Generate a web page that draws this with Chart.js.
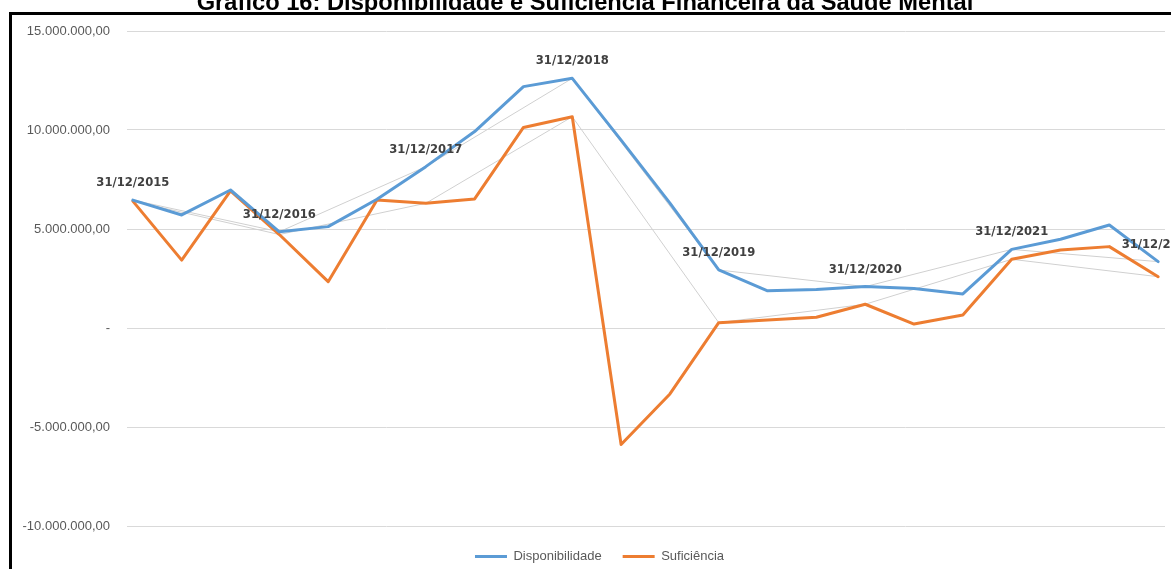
<!DOCTYPE html>
<html>
<head>
<meta charset="utf-8">
<script src="https://cdn.jsdelivr.net/npm/chart.js@4/dist/chart.umd.min.js"></script>
<style>
    body { margin: 0; background: #ffffff; }
    #wrap { position: relative; width: 1171px; height: 569px; overflow: hidden; }
</style>
</head>
<body>
<div id="wrap"><canvas id="chart" width="1171" height="569"></canvas></div>
<script>
const chartTitle = "Gráfico 16: Disponibilidade e Suficiência Financeira da Saúde Mental";

// quadrimestral positions, 31/12/2015 .. 31/12/2022
const periods = [0, 1, 2, 3, 4, 5, 6, 7, 8, 9, 10, 11, 12, 13, 14, 15, 16, 17, 18, 19, 20, 21];

const disponibilidade = [6.46, 5.71, 6.97, 4.86, 5.12, 6.50, 8.15, 9.92, 12.19, 12.61, 9.49,
    6.31, 2.93, 1.88, 1.95, 2.09, 2.00, 1.72, 3.97, 4.48, 5.20, 3.35].map(v => v * 1e6);

const suficiencia = [6.41, 3.43, 6.92, 4.72, 2.34, 6.46, 6.30, 6.52, 10.13, 10.67, -5.88,
    -3.33, 0.27, 0.40, 0.54, 1.20, 0.20, 0.66, 3.47, 3.94, 4.11, 2.59].map(v => v * 1e6);

// year end points (31/12) and their labels
const yearEndIndex = [0, 3, 6, 9, 12, 15, 18, 21];
const yearEndLabels = ["31/12/2015", "31/12/2016", "31/12/2017", "31/12/2018",
    "31/12/2019", "31/12/2020", "31/12/2021", "31/12/2022"];

const yTicks = [-10e6, -5e6, 0, 5e6, 10e6, 15e6];

function formatBRL(value) {
    if (value === 0) return "-";
    const neg = value < 0;
    const parts = Math.abs(value).toFixed(2).split(".");
    const intPart = parts[0].replace(/\B(?=(\d{3})+(?!\d))/g, ".");
    return (neg ? "-" : "") + intPart + "," + parts[1];
}

function toPoints(values) {
    return periods.map((p, i) => ({ x: p, y: values[i] }));
}

function yearEndPoints(values) {
    return yearEndIndex.map(i => ({ x: periods[i], y: values[i] }));
}

const frame = {
    id: 'frame',
    afterLayout(chart) {
        // nudge the legend a bit right and down, like the original
        const lg = chart.legend;
        lg.left += 17;
        lg.right += 17;
        lg.top += 3;
        lg.bottom += 3;
    },
    beforeDraw(chart) {
        const ctx = chart.ctx;
        ctx.save();
        ctx.fillStyle = "#000000";
        ctx.fillRect(9, 12, 1200, 3);
        ctx.fillRect(9, 12, 3, 600);
        ctx.font = "bold 23.7px 'Liberation Sans', Arial, sans-serif";
        ctx.textAlign = "center";
        ctx.textBaseline = "alphabetic";
        ctx.fillText(chartTitle, 585, 10);
        ctx.restore();
    }
};

const yearLabels = {
    id: 'yearLabels',
    afterDatasetsDraw(chart) {
        const ctx = chart.ctx;
        const meta = chart.getDatasetMeta(0);
        ctx.save();
        ctx.font = "bold 11.6px 'DejaVu Sans', Verdana, sans-serif";
        ctx.fillStyle = "#404040";
        ctx.textAlign = "center";
        ctx.textBaseline = "middle";
        yearEndIndex.forEach((idx, k) => {
            const pt = meta.data[idx];
            ctx.fillText(yearEndLabels[k], pt.x, pt.y - 17);
        });
        ctx.restore();
    }
};

const ctx = document.getElementById("chart").getContext("2d");

Chart.defaults.font.family = "'Liberation Sans', Arial, sans-serif";
Chart.defaults.font.size = 13;
Chart.defaults.color = "#595959";

const chart = new Chart(ctx, {
    type: "line",
    data: {
        datasets: [
            {
                label: "Disponibilidade",
                data: toPoints(disponibilidade),
                borderColor: "#5B9BD5",
                backgroundColor: "#5B9BD5",
                borderWidth: 3,
                pointRadius: 0,
                borderJoinStyle: 'round',
                borderCapStyle: 'round',
                order: 1,
            },
            {
                label: "Suficiência",
                data: toPoints(suficiencia),
                borderColor: "#ED7D31",
                backgroundColor: "#ED7D31",
                borderWidth: 3,
                pointRadius: 0,
                borderJoinStyle: 'round',
                borderCapStyle: 'round',
                order: 1,
            },
            {
                label: "trend1",
                data: yearEndPoints(disponibilidade),
                borderColor: "#d0d0d0",
                borderWidth: 1,
                pointRadius: 0,
                order: 2,
            },
            {
                label: "trend2",
                data: yearEndPoints(suficiencia),
                borderColor: "#d0d0d0",
                borderWidth: 1,
                pointRadius: 0,
                order: 2,
            },
        ],
    },
    options: {
        responsive: false,
        animation: false,
        layout: {
            padding: { top: 31, left: 0, right: 6, bottom: -1 }
        },
        scales: {
            x: {
                type: 'linear',
                display: false,
                min: -0.12,
                max: 21.14,
            },
            y: {
                min: -10e6,
                max: 15e6,
                afterFit: (scale) => { scale.width = 127; },
                afterBuildTicks: (scale) => { scale.ticks = yTicks.map(v => ({ value: v })); },
                border: { display: false },
                grid: { color: "#d9d9d9", drawTicks: false },
                ticks: {
                    padding: 17,
                    callback: (value) => formatBRL(value),
                },
            },
        },
        plugins: {
            legend: {
                position: 'bottom',
                labels: {
                    boxWidth: 32,
                    boxHeight: 3,
                    padding: 21,
                    color: "#595959",
                    generateLabels: (chart) => Chart.defaults.plugins.legend.labels.generateLabels(chart)
                        .filter(item => item.datasetIndex < 2)
                        .map(item => Object.assign(item, { lineWidth: 0 })),
                },
            },
            tooltip: { enabled: false },
            title: { display: false },
        },
    },
    plugins: [frame, yearLabels],
});
</script>
</body>
</html>
